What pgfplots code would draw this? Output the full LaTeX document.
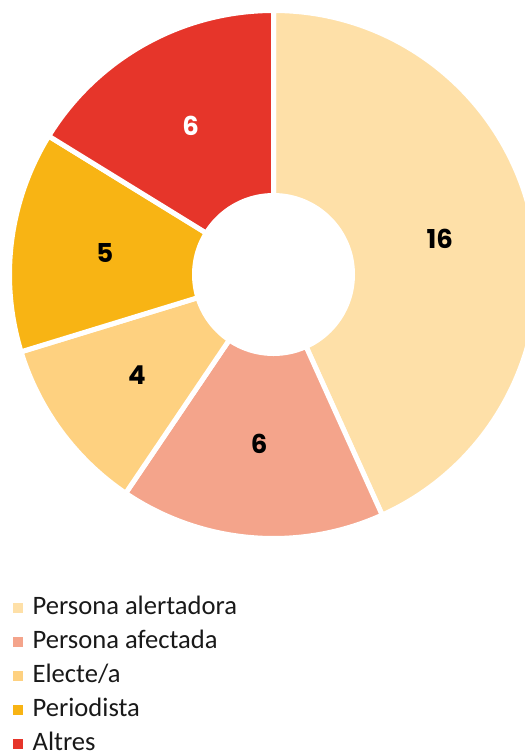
\documentclass[border=0pt]{standalone}
\usepackage{pgfplots}
\pgfplotsset{compat=1.18}
\usepackage{pgfplotstable}
\usepackage{fontspec}
\setmainfont{Carlito}
\newfontfamily\pop{Poppins}

\definecolor{cA}{RGB}{254,224,168}
\definecolor{cB}{RGB}{244,164,139}
\definecolor{cC}{RGB}{254,209,128}
\definecolor{cD}{RGB}{248,180,20}
\definecolor{cE}{RGB}{230,53,42}

% value per category, drawn clockwise from 12 o'clock
\pgfplotstableread[col sep=comma]{
name,value,col,txt
Persona alertadora,16,cA,black
Persona afectada,6,cB,black
Electe/a,4,cC,black
Periodista,5,cD,black
Altres,6,cE,white
}\piedata

\begin{document}
\begin{tikzpicture}
\begin{axis}[
    name=ax,
    x=0.5pt, y=0.5pt,
    xmin=0, xmax=525, ymin=0, ymax=751,
    y dir=reverse,
    hide axis,
    clip=false,
    legend image code/.code={\fill[#1] (0pt,-2.25pt) rectangle (4.5pt,2.25pt);},
    legend cell align=left,
    legend style={
        at={(axis cs:13,595.5)}, anchor=north west,
        draw=none, fill=none, inner sep=0pt,
        font=\fontsize{13.3}{16}\selectfont\color{black!90},
        row sep=5pt,
        nodes={inner sep=0pt, text height=9.5pt, text depth=2.5pt},
        /tikz/every odd column/.append style={column sep=4.7pt},
    },
]
\pgfplotstablegetrowsof{\piedata}
\pgfmathtruncatemacro\nrows{\pgfplotsretval-1}
\def\total{0}
\pgfplotsforeachungrouped \i in {0,...,\nrows}{
    \pgfplotstablegetelem{\i}{value}\of\piedata
    \pgfmathsetmacro\total{\total+\pgfplotsretval}
}
% wedges
\def\cum{0}
\pgfplotsforeachungrouped \i in {0,...,\nrows}{
    \pgfplotstablegetelem{\i}{value}\of\piedata \let\v\pgfplotsretval
    \pgfplotstablegetelem{\i}{col}\of\piedata \let\c\pgfplotsretval
    \pgfplotstablegetelem{\i}{name}\of\piedata \let\n\pgfplotsretval
    \pgfmathsetmacro\aone{90-\cum*360/\total}
    \pgfmathsetmacro\cum{\cum+\v}
    \pgfmathsetmacro\atwo{90-\cum*360/\total}
    \edef\cmd{\noexpand\filldraw[fill=\c, draw=white, line width=2.5pt]
        (axis cs:273.5,274.5) -- ++(\aone:132pt)
        arc[start angle=\aone, end angle=\atwo, radius=132pt] -- cycle;
        \noexpand\addlegendimage{\c}
        \noexpand\addlegendentry{\n}}
    \cmd
}
% hole
\fill[white] (axis cs:273.5,274.5) circle[radius=40.75pt];
% value labels
\def\cum{0}
\pgfplotsforeachungrouped \i in {0,...,\nrows}{
    \pgfplotstablegetelem{\i}{value}\of\piedata \let\v\pgfplotsretval
    \pgfplotstablegetelem{\i}{txt}\of\piedata \let\t\pgfplotsretval
    \pgfmathsetmacro\amid{90-(\cum+\v/2)*360/\total}
    \pgfmathsetmacro\cum{\cum+\v}
    \edef\cmd{\noexpand\node[text=\t, font=\noexpand\pop\noexpand\bfseries\noexpand\fontsize{13}{15}\noexpand\selectfont]
        at ([shift={(\amid:85pt)}]axis cs:273.5,274.5) {\v};}
    \cmd
}
\end{axis}
\pgfresetboundingbox
\path[use as bounding box] (ax.south west) rectangle (ax.north east);
\end{tikzpicture}
\end{document}
